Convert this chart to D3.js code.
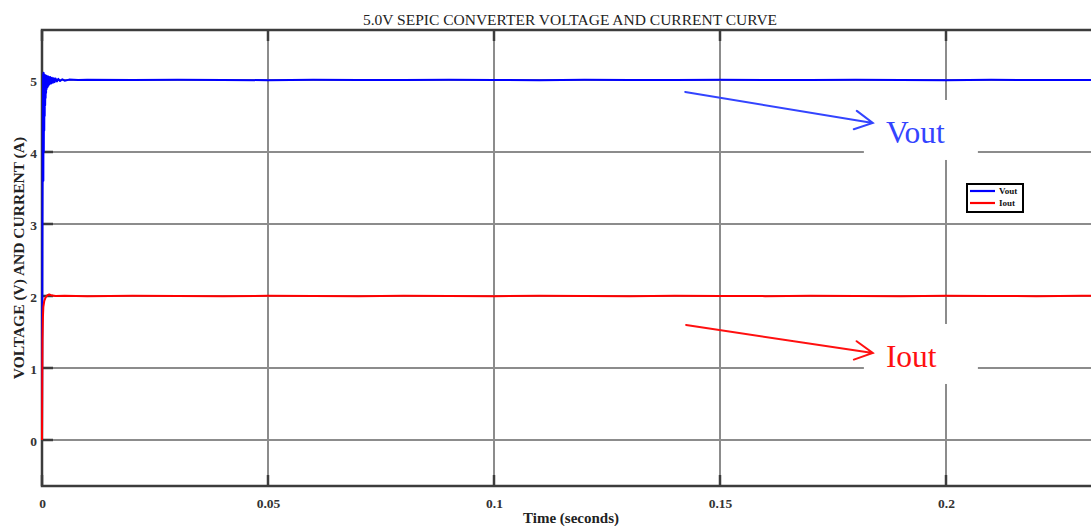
<!DOCTYPE html>
<html>
<head>
<meta charset="utf-8">
<script src="https://cdn.jsdelivr.net/npm/d3@7"></script>
<style>
  html, body { margin: 0; padding: 0; background: #fff; }
  svg { display: block; }
</style>
</head>
<body>
<svg id="chart" width="1091" height="526"></svg>
<script>
// Axis ticks
const timeTicks = [0, 0.05, 0.1, 0.15, 0.2];
const timeTickLabels = ["0", "0.05", "0.1", "0.15", "0.2"];
const valueTicks = [0, 1, 2, 3, 4, 5];
const valueTickLabels = ["0", "1", "2", "3", "4", "5"];

// Output voltage trace [time (s), volts]: fast start-up ringing, then steady ~5 V
const voutTrace = [
  [0, 0], [0.00005, 1.5], [0.0001, 3.0], [0.00015, 4.0], [0.0002, 4.6],
  [0.00025, 5.08], [0.0003, 3.6], [0.00035, 5.1], [0.0004, 4.0], [0.00045, 5.08],
  [0.0005, 4.3], [0.00055, 5.07], [0.0006, 4.5], [0.00065, 5.07], [0.0007, 4.65],
  [0.00075, 5.06], [0.0008, 4.75], [0.00085, 5.06], [0.0009, 4.82], [0.00095, 5.06],
  [0.001, 4.87], [0.0011, 5.05], [0.0012, 4.9], [0.0013, 5.05], [0.0014, 4.92],
  [0.0015, 5.04], [0.0016, 4.94], [0.0018, 5.04], [0.002, 4.95], [0.0022, 5.03],
  [0.0024, 4.96], [0.0026, 5.025], [0.0028, 4.97], [0.003, 5.02], [0.0033, 4.98],
  [0.0036, 5.015], [0.004, 4.985], [0.0045, 5.01], [0.005, 4.99], [0.006, 5.005],
  [0.008, 5.0], [0.01, 5.003], [0.02, 4.998], [0.03, 5.002], [0.04, 5.0],
  [0.05, 4.997], [0.06, 5.003], [0.07, 5.0], [0.08, 4.998], [0.09, 5.002],
  [0.1, 5.0], [0.11, 4.997], [0.12, 5.002], [0.13, 5.0], [0.14, 4.998],
  [0.15, 5.003], [0.16, 5.0], [0.17, 4.998], [0.18, 5.002], [0.19, 5.0],
  [0.2, 4.997], [0.21, 5.002], [0.22, 5.0], [0.23, 4.998], [0.24, 5.002], [0.25, 5.0]
];

// Output current trace [time (s), amps]: rises to a steady ~2 A
const ioutTrace = [
  [0, 0], [0.00005, 0.8], [0.0001, 1.4], [0.0002, 1.7], [0.0003, 1.85],
  [0.0005, 1.93], [0.0008, 1.98], [0.0012, 2.01], [0.0016, 2.02], [0.002, 2.01],
  [0.003, 2.0], [0.005, 2.003], [0.01, 1.998], [0.02, 2.002], [0.03, 2.0],
  [0.04, 1.997], [0.05, 2.002], [0.06, 2.0], [0.07, 1.998], [0.08, 2.003],
  [0.09, 2.0], [0.1, 1.998], [0.11, 2.002], [0.12, 2.0], [0.13, 1.997],
  [0.14, 2.002], [0.15, 2.0], [0.16, 1.998], [0.17, 2.003], [0.18, 2.0],
  [0.19, 1.998], [0.2, 2.002], [0.21, 2.0], [0.22, 1.997], [0.23, 2.002],
  [0.24, 2.0], [0.25, 2.0]
];

// Callout annotations: arrow start/end in data units, label anchor in data units
const callouts = [
  { label: "Vout", color: "#3344ff", from: [0.1423, 4.833], to: [0.1838, 4.403], text: [0.1867, 4.125] },
  { label: "Iout", color: "#ff1010", from: [0.1425, 1.597], to: [0.1838, 1.208], text: [0.1867, 1.014] }
];

const legendItems = [
  { label: "Vout", color: "#0000ff" },
  { label: "Iout", color: "#ff0000" }
];

const svg = d3.select("#chart");
const serif = "'Liberation Serif', 'Times New Roman', serif";

const plot = { left: 42, top: 30, bottom: 486, right: 1172 };
const x = d3.scaleLinear().domain([0, 0.25]).range([plot.left, plot.right]);
const y = d3.scaleLinear().domain([-0.639, 5.694]).range([plot.bottom, plot.top]);

// Title
svg.append("text")
  .attr("x", 570).attr("y", 25)
  .attr("text-anchor", "middle")
  .attr("font-family", serif)
  .attr("font-size", 15.5)
  .attr("fill", "#222")
  .text("5.0V SEPIC CONVERTER VOLTAGE AND CURRENT CURVE");

// Grid lines
const grid = svg.append("g");
grid.selectAll("line.gx").data(timeTicks.slice(1)).join("line")
  .attr("x1", d => x(d)).attr("x2", d => x(d))
  .attr("y1", plot.top).attr("y2", plot.bottom)
  .attr("stroke", "#8c8c8c").attr("stroke-width", 2);
grid.selectAll("line.gy").data(valueTicks).join("line")
  .attr("x1", plot.left).attr("x2", plot.right)
  .attr("y1", d => y(d)).attr("y2", d => y(d))
  .attr("stroke", "#8c8c8c").attr("stroke-width", 2);

// Frame and inward tick marks
const frameColor = "#3c3c3c";
const frame = svg.append("g");
frame.append("path")
  .attr("d", `M${plot.right},${plot.top}H${plot.left}V${plot.bottom}H${plot.right}`)
  .attr("fill", "none").attr("stroke", frameColor).attr("stroke-width", 2.5);
const tickLen = 11;
frame.selectAll("line.tb").data(timeTicks).join("line")
  .attr("x1", d => x(d)).attr("x2", d => x(d))
  .attr("y1", plot.bottom).attr("y2", plot.bottom - tickLen)
  .attr("stroke", frameColor).attr("stroke-width", 2.5);
frame.selectAll("line.tt").data(timeTicks).join("line")
  .attr("x1", d => x(d)).attr("x2", d => x(d))
  .attr("y1", plot.top).attr("y2", plot.top + tickLen)
  .attr("stroke", frameColor).attr("stroke-width", 2.5);
frame.selectAll("line.tl").data(valueTicks).join("line")
  .attr("x1", plot.left).attr("x2", plot.left + tickLen)
  .attr("y1", d => y(d)).attr("y2", d => y(d))
  .attr("stroke", frameColor).attr("stroke-width", 2.5);

// Tick labels via D3 axes (domain and tick lines hidden; frame drawn above)
const xAxis = d3.axisBottom(x)
  .tickValues(timeTicks)
  .tickFormat((d, i) => timeTickLabels[i])
  .tickSize(0).tickPadding(12);
const gx = svg.append("g").attr("transform", `translate(0,${plot.bottom})`).call(xAxis);
gx.select(".domain").remove();
gx.selectAll("text")
  .attr("font-family", serif).attr("font-size", 13.5).attr("font-weight", "bold")
  .attr("fill", "#333");

const yAxis = d3.axisLeft(y)
  .tickValues(valueTicks)
  .tickFormat((d, i) => valueTickLabels[i])
  .tickSize(0).tickPadding(5);
const gy = svg.append("g").attr("transform", `translate(${plot.left},0)`).call(yAxis);
gy.select(".domain").remove();
gy.selectAll("text")
  .attr("font-family", serif).attr("font-size", 13.5).attr("font-weight", "bold")
  .attr("fill", "#333").attr("dy", "0.4em");

// Axis titles
svg.append("text")
  .attr("x", 571).attr("y", 523)
  .attr("text-anchor", "middle")
  .attr("font-family", serif).attr("font-size", 15).attr("font-weight", "bold")
  .attr("fill", "#222")
  .text("Time (seconds)");
svg.append("text")
  .attr("transform", "translate(24,258) rotate(-90)")
  .attr("text-anchor", "middle")
  .attr("font-family", serif).attr("font-size", 15.5).attr("font-weight", "bold")
  .attr("fill", "#222")
  .text("VOLTAGE (V) AND CURRENT (A)");

// Data traces
const line = d3.line().x(d => x(d[0])).y(d => y(d[1]));
svg.append("path").datum(voutTrace)
  .attr("d", line).attr("fill", "none")
  .attr("stroke", "#0000ff").attr("stroke-width", 2).attr("stroke-linejoin", "round");
svg.append("path").datum(ioutTrace)
  .attr("d", line).attr("fill", "none")
  .attr("stroke", "#ff0000").attr("stroke-width", 2).attr("stroke-linejoin", "round");

// Callouts: white label box, label text and open-headed arrow
callouts.forEach(c => {
  const tx = x(c.text[0]), ty = y(c.text[1]);
  svg.append("rect")
    .attr("x", tx - 22).attr("y", ty - 43)
    .attr("width", 114).attr("height", 60)
    .attr("fill", "#fff");
  svg.append("text")
    .attr("x", tx).attr("y", ty)
    .attr("font-family", serif).attr("font-size", 31.5)
    .attr("fill", c.color)
    .text(c.label);
  const x1 = x(c.from[0]), y1 = y(c.from[1]);
  const x2 = x(c.to[0]), y2 = y(c.to[1]);
  const ang = Math.atan2(y2 - y1, x2 - x1);
  const headLen = 20, headAng = Math.PI / 6.5;
  const hx1 = x2 - headLen * Math.cos(ang - headAng), hy1 = y2 - headLen * Math.sin(ang - headAng);
  const hx2 = x2 - headLen * Math.cos(ang + headAng), hy2 = y2 - headLen * Math.sin(ang + headAng);
  svg.append("path")
    .attr("d", `M${x1},${y1}L${x2},${y2}M${hx1},${hy1}L${x2},${y2}L${hx2},${hy2}`)
    .attr("fill", "none").attr("stroke", c.color).attr("stroke-width", 2)
    .attr("stroke-linecap", "round").attr("stroke-linejoin", "miter");
});

// Legend
const legend = svg.append("g").attr("transform", "translate(967,184)");
legend.append("rect")
  .attr("width", 56).attr("height", 28)
  .attr("fill", "#fff").attr("stroke", "#000").attr("stroke-width", 2);
legendItems.forEach((item, i) => {
  const ly = 7 + i * 12;
  legend.append("line")
    .attr("x1", 3).attr("x2", 28).attr("y1", ly).attr("y2", ly)
    .attr("stroke", item.color).attr("stroke-width", 2.2);
  legend.append("text")
    .attr("x", 32).attr("y", ly + 3)
    .attr("font-family", serif).attr("font-size", 9).attr("font-weight", "bold")
    .attr("fill", "#111")
    .text(item.label);
});
</script>
</body>
</html>
